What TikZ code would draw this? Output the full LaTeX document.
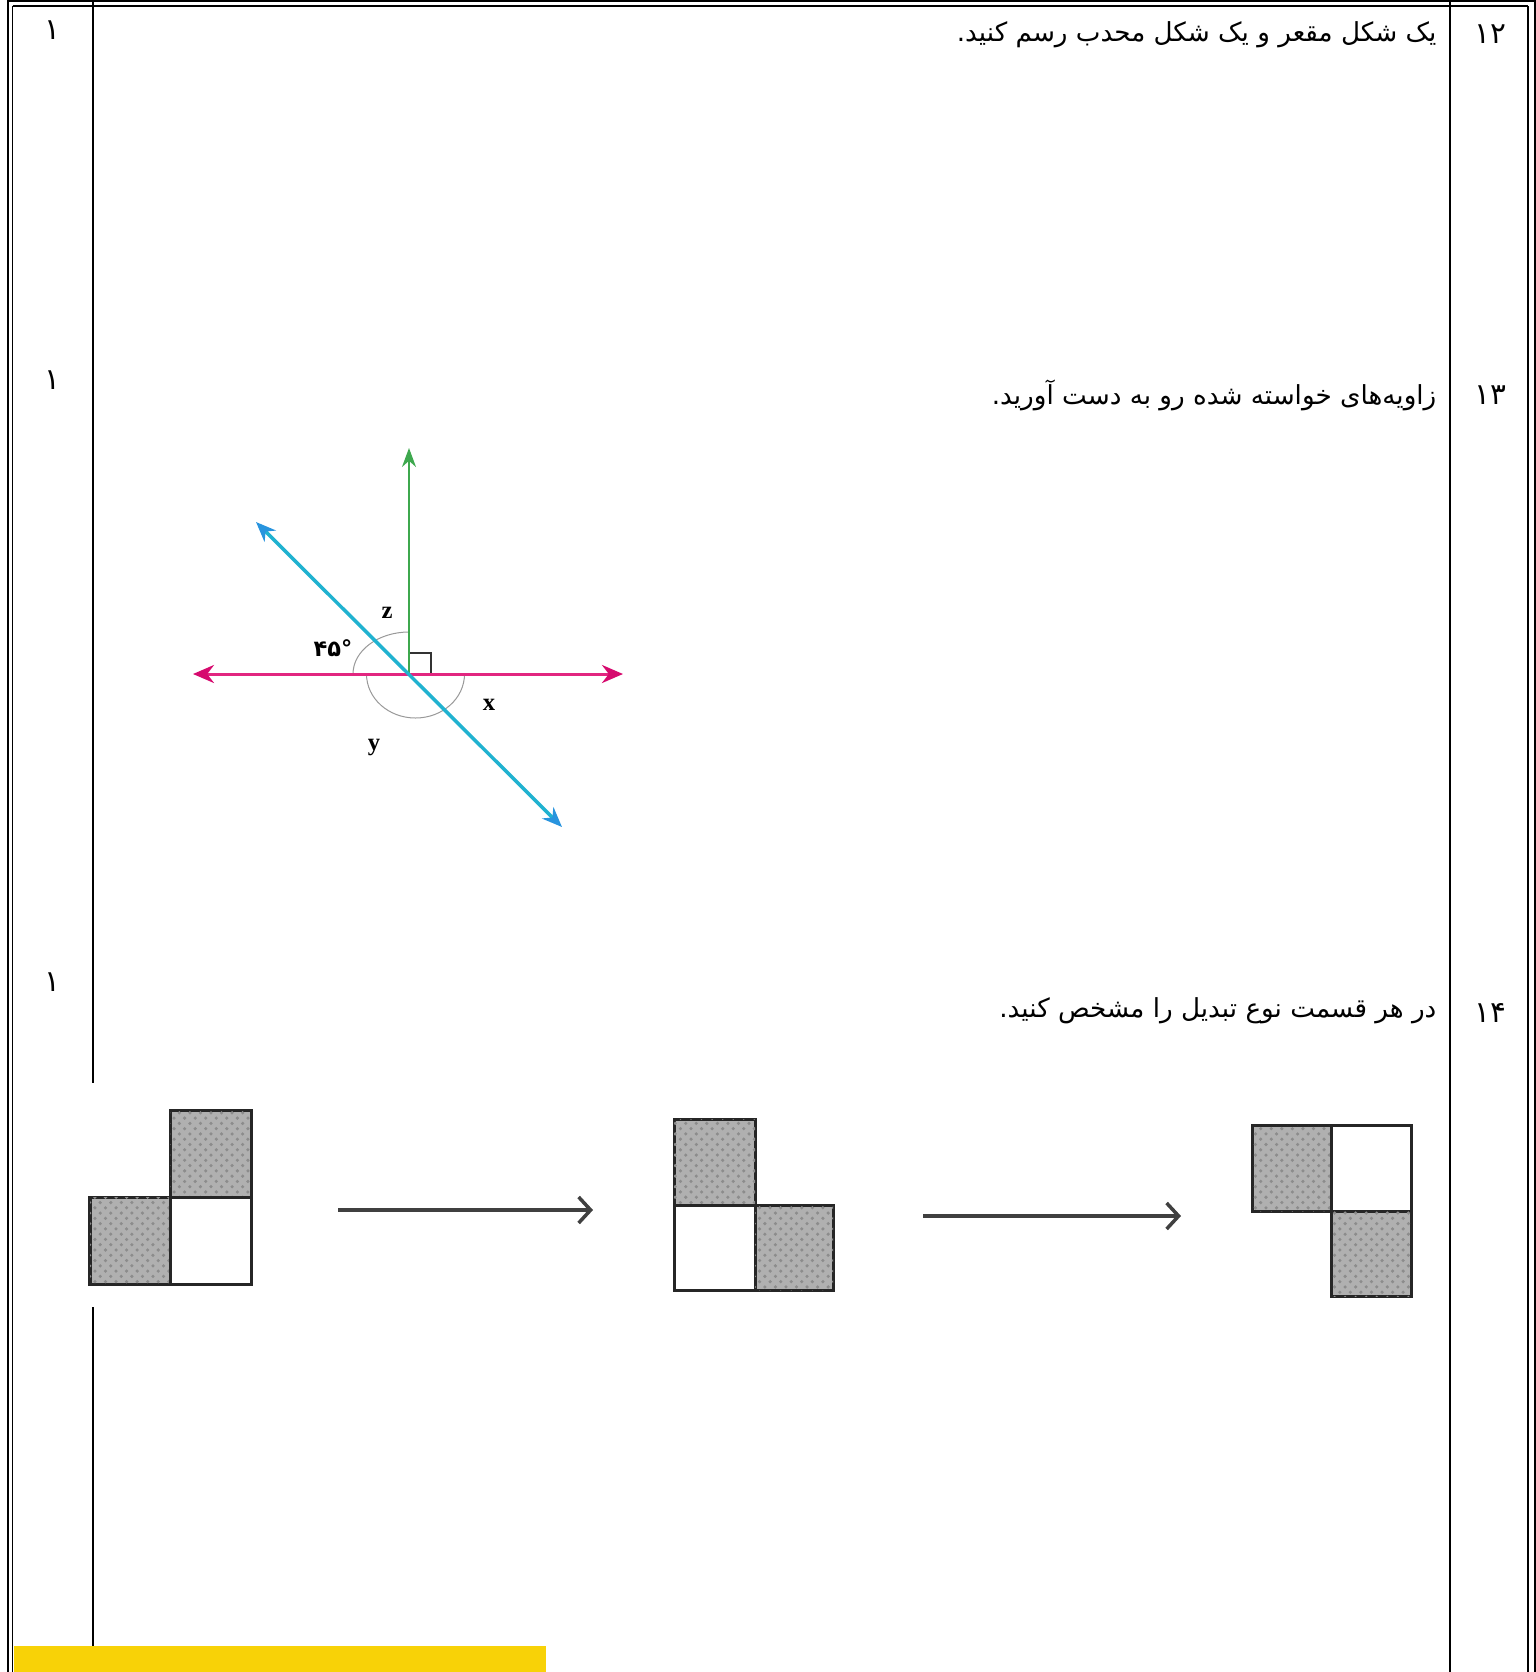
\documentclass[tikz,border=0pt]{standalone}
\usepackage{fontspec}
\setmainfont{Liberation Serif}
\newfontfamily\arabicfont[Script=Arabic]{DejaVu Sans}
\TeXXeTstate=1
\usetikzlibrary{arrows.meta,patterns}
\definecolor{pinkline}{RGB}{226,38,128}
\definecolor{pinkhead}{RGB}{214,10,110}
\definecolor{greenline}{RGB}{62,168,78}
\definecolor{blueline}{RGB}{32,178,208}
\definecolor{bluehead}{RGB}{40,148,222}
\definecolor{markyellow}{RGB}{248,210,7}

\begin{document}
\begin{tikzpicture}[x=0.01cm, y=0.01cm,
    frameline/.style={line width=0.2mm, black},
    thinline/.style={line width=0.13mm, black},
    qtext/.style={anchor=east, inner sep=0pt, font=\arabicfont\fontsize{7.45}{8}\selectfont},
    qnum/.style={inner sep=0pt, font=\arabicfont\fontsize{8.4}{9}\selectfont},
    lbl/.style={inner sep=0pt, font=\bfseries\fontsize{7}{8}\selectfont},
    anglearc/.style={gray!80, line width=0.1mm},
    graycell/.style={draw=black!85, line width=0.3mm, fill=gray!62,
        postaction={pattern=crosshatch dots, pattern color=black!45}},
    whitecell/.style={draw=black!85, line width=0.3mm, fill=white},
    moveto/.style={black!75, line width=0.35mm, -{Straight Barb[length=1.2mm, width=2.6mm]}}]
    \useasboundingbox (0,0) rectangle (1536,-1672);

    % --- Table frame (double border) ---
    \draw[frameline] (8,0) -- (8,-1672);
    \draw[thinline] (12.5,-6) -- (12.5,-1672);
    \draw[frameline] (8,-1) -- (1535,-1);
    \draw[thinline] (12.5,-6) -- (1528,-6);
    \draw[thinline] (1528,-6) -- (1528,-1672);
    \draw[frameline] (1535,0) -- (1535,-1672);

    % --- Column dividers ---
    \draw[thinline] (93,0) -- (93,-1083);
    \draw[thinline] (93,-1307) -- (93,-1672);
    \draw[thinline] (1450,0) -- (1450,-1672);

    % --- Scores (left column) ---
    \node[qnum] (s12) at (52,-30) {۱};
    \node[qnum] (s13) at (52,-380) {۱};
    \node[qnum] (s14) at (52,-982) {۱};

    % --- Question numbers (right column) ---
    \node[qnum] (n12) at (1490,-34) {۱۲};
    \node[qnum] (n13) at (1490,-395) {۱۳};
    \node[qnum] (n14) at (1490,-1013) {۱۴};

    % --- Question texts ---
    \node[qtext] (q12) at (1437,-35) {\beginR یک شکل مقعر و یک شکل محدب رسم کنید.\endR};
    \node[qtext] (q13) at (1437,-395) {\beginR زاویه‌های خواسته شده رو به دست آورید.\endR};
    \node[qtext] (q14) at (1437,-1011) {\beginR در هر قسمت نوع تبدیل را مشخص کنید.\endR};

    % --- Question 13: angles figure ---
    \coordinate (O) at (409,-674);
    \coordinate (pL) at (193,-674);
    \coordinate (pR) at (623,-674);
    \coordinate (gT) at (409,-448);
    \coordinate (bUL) at (256,-522);
    \coordinate (bLR) at (562,-827);
    \draw[anglearc] (409,-632) arc[start angle=90, end angle=180, x radius=56, y radius=42];
    \draw[anglearc] (366.5,-674) arc[start angle=180, end angle=360, x radius=49, y radius=44];
    \draw[black!80, line width=0.12mm] (O) rectangle (431,-653);
    \draw[greenline, line width=0.15mm, -{Stealth[length=1.9mm, width=1.4mm]}] (O) -- (gT);
    \draw[pinkline, line width=0.3mm, {Stealth[length=2.1mm, width=1.8mm, color=pinkhead]}-{Stealth[length=2.1mm, width=1.8mm, color=pinkhead]}] (pL) -- (pR);
    \draw[blueline, line width=0.35mm, {Stealth[length=2mm, width=1.6mm, color=bluehead]}-{Stealth[length=2mm, width=1.6mm, color=bluehead]}] (bUL) -- (bLR);
    \node[lbl] (lz) at (387,-613) {z};
    \node[lbl, font=\arabicfont\bfseries\fontsize{6.4}{7}\selectfont] (l45) at (333,-648) {۴۵°};
    \node[lbl] (lx) at (489,-705) {x};
    \node[lbl] (ly) at (374,-747) {y};

    % --- Question 14: transformations ---
    \fill[white] (85,-1083) rectangle (1440,-1307);
    \draw[graycell] (170,-1110) rectangle (251,-1197);
    \draw[graycell] (90,-1197) rectangle (170,-1284);
    \draw[whitecell] (170,-1197) rectangle (251,-1284);
    \coordinate (m1s) at (338,-1210);
    \coordinate (m1e) at (593,-1210);
    \draw[moveto] (m1s) -- (m1e);

    \draw[graycell] (674,-1119) rectangle (755,-1205);
    \draw[whitecell] (674,-1205) rectangle (755,-1290);
    \draw[graycell] (755,-1205) rectangle (833,-1290);
    \coordinate (m2s) at (923,-1216);
    \coordinate (m2e) at (1181,-1216);
    \draw[moveto] (m2s) -- (m2e);

    \draw[graycell] (1252,-1125) rectangle (1331,-1211);
    \draw[whitecell] (1331,-1125) rectangle (1411,-1211);
    \draw[graycell] (1331,-1211) rectangle (1411,-1296);

    % --- Highlight strip ---
    \fill[markyellow] (13.5,-1646) rectangle (546,-1672);
\end{tikzpicture}
\end{document}
